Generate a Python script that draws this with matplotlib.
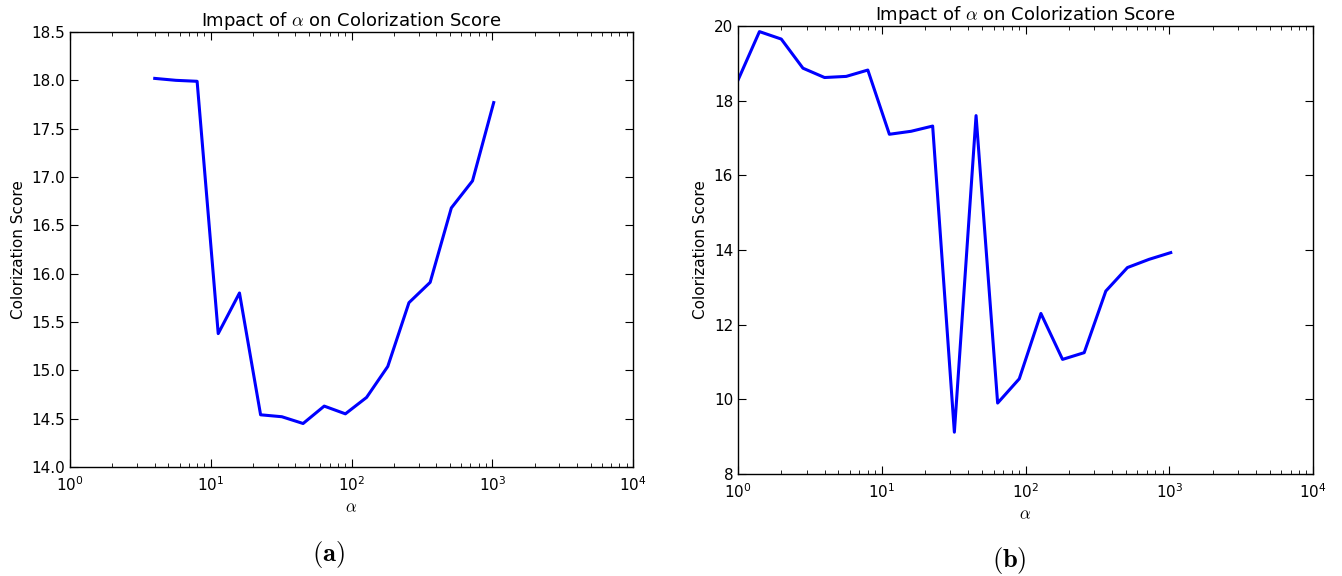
import matplotlib
matplotlib.use("Agg")
import matplotlib.pyplot as plt
from matplotlib.ticker import LogLocator

plt.rcParams['mathtext.fontset'] = 'cm'
plt.rcParams['font.family'] = 'DejaVu Sans'

alpha_a = [4, 5.66, 8, 11.3, 16, 22.6, 32, 45.3, 64, 90.5, 128, 181, 256, 362, 512, 724, 1024]
score_a = [18.02, 18.00, 17.99, 15.38, 15.80, 14.54, 14.52, 14.45, 14.63, 14.55, 14.72,
           15.04, 15.70, 15.91, 16.68, 16.96, 17.77]

alpha_b = [1, 1.41, 2, 2.83, 4, 5.66, 8, 11.3, 16, 22.6, 32, 45.3, 64, 90.5, 128, 181,
           256, 362, 512, 724, 1024]
score_b = [18.55, 19.85, 19.65, 18.87, 18.62, 18.65, 18.82, 17.10, 17.18, 17.32, 9.12,
           17.60, 9.90, 10.55, 12.30, 11.07, 11.25, 12.90, 13.53, 13.75, 13.93]

title = r'Impact of $\alpha$ on Colorization Score'
ylabel = 'Colorization Score'
xlabel = r'$\alpha$'

W, H = 1342, 576
fig = plt.figure(figsize=(W / 100, H / 100), dpi=100)

def box(l, t, r, b):
    return [l / W, 1 - b / H, (r - l) / W, (b - t) / H]

ax1 = fig.add_axes(box(70, 32, 633, 467))
ax2 = fig.add_axes(box(738, 26, 1313, 474))

for ax, x, y, ylim, yticks, cap in [
        (ax1, alpha_a, score_a, (14.0, 18.5), [14.0, 14.5, 15.0, 15.5, 16.0, 16.5, 17.0, 17.5, 18.0, 18.5], '(a)'),
        (ax2, alpha_b, score_b, (8, 20), [8, 10, 12, 14, 16, 18, 20], '(b)')]:
    ax.plot(x, y, color='#0000ff', lw=2.2)
    ax.set_xscale('log')
    ax.set_xlim(1, 1e4)
    ax.set_ylim(*ylim)
    ax.set_yticks(yticks)
    if ax is ax1:
        ax.set_yticklabels([f'{v:.1f}' for v in yticks])
    else:
        ax.set_yticklabels([f'{v:d}' for v in yticks])
    ax.xaxis.set_minor_locator(LogLocator(base=10, subs=range(2, 10), numticks=20))
    ax.tick_params(which='both', direction='in', top=True, right=True, labelsize=11)
    ax.tick_params(which='major', length=6, width=0.8)
    ax.tick_params(which='minor', length=3, width=0.6)
    ax.tick_params(axis='x', pad=6)
    for s in ax.spines.values():
        s.set_linewidth(1.0)
    ax.set_title(title, fontsize=13, pad=4)
    ax.set_ylabel(ylabel, fontsize=11)
    ax.set_xlabel(xlabel, fontsize=12, labelpad=3)

fig.text(328 / W, 1 - 554 / H, r'$(\mathbf{a})$', ha='center', va='center', fontsize=19)
fig.text(1009 / W, 1 - 560 / H, r'$(\mathbf{b})$', ha='center', va='center', fontsize=19)

fig.savefig('out.png', dpi=100, facecolor='white')
